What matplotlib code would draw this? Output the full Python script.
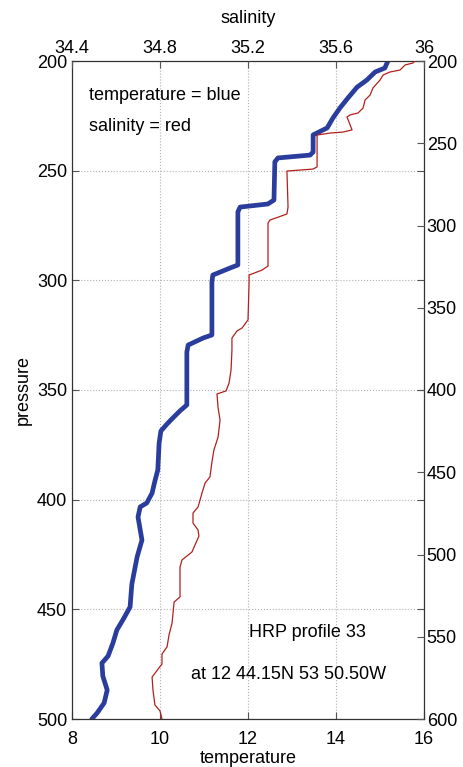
import matplotlib
matplotlib.use("Agg")
import matplotlib.pyplot as plt

plt.rcParams['font.family'] = ['Liberation Sans', 'DejaVu Sans']

# temperature profile (blue), pressure on left axis
temp_p = [200, 203.2, 205.0, 208.7, 211.9, 216.9, 221.4, 226.0, 230.5, 232.8, 233.7,
          241.5, 242.9, 244.2, 246.0, 263.4, 265.2, 266.6, 268.8, 293.0, 294.4, 297.6,
          300.8, 324.9, 326.3, 329.5, 332.7, 356.8, 359.6, 363.2, 365.5, 368.7, 374.2,
          386.5, 391.0, 397.0, 401.5, 403.3, 407.9, 418.4, 426.1, 438.5, 448.9, 454.0,
          459.4, 465.4, 471.3, 474.5, 480.4, 486.8, 492.7, 497.3, 500.0]
temp_t = [15.18, 15.11, 14.89, 14.70, 14.48, 14.27, 14.09, 13.93, 13.80, 13.57, 13.48,
          13.48, 13.41, 12.68, 12.61, 12.59, 12.45, 11.82, 11.77, 11.77, 11.59, 11.20,
          11.18, 11.18, 10.98, 10.64, 10.61, 10.61, 10.45, 10.27, 10.16, 10.02, 9.98,
          9.95, 9.89, 9.82, 9.70, 9.55, 9.50, 9.59, 9.48, 9.36, 9.32, 9.18,
          9.02, 8.93, 8.82, 8.68, 8.70, 8.80, 8.73, 8.57, 8.45]

# salinity profile (red), pressure on right axis
sal_p = [200, 201.2, 202.4, 205.5, 206.7, 208.5, 211.6, 216.4, 220.7, 223.7, 228.6,
         231.6, 232.8, 234.0, 241.9, 243.2, 243.8, 245.0, 264.4, 265.7, 266.9, 288.8,
         293.0, 296.7, 298.5, 324.6, 327.1, 330.1, 334.3, 357.4, 362.3, 364.1, 368.4,
         375.7, 387.8, 395.7, 400.6, 402.4, 410.9, 418.2, 428.6, 436.5, 443.8, 452.9,
         456.5, 462.6, 471.1, 474.8, 480.9, 485.1, 488.8, 498.5, 503.3, 507.6, 525.8,
         528.9, 541.6, 548.9, 556.2, 560.5, 566.6, 569.0, 574.5, 582.4, 591.5, 595.1, 600.0]
sal_s = [35.959, 35.950, 35.914, 35.891, 35.845, 35.814, 35.800, 35.768, 35.755, 35.732, 35.723,
         35.700, 35.664, 35.650, 35.673, 35.632, 35.573, 35.514, 35.514, 35.495, 35.377, 35.382,
         35.377, 35.300, 35.291, 35.291, 35.264, 35.205, 35.205, 35.200, 35.173, 35.150, 35.127,
         35.127, 35.123, 35.114, 35.100, 35.059, 35.064, 35.073, 35.064, 35.045, 35.036, 35.027,
         35.005, 34.991, 34.973, 34.950, 34.950, 34.973, 34.977, 34.945, 34.900, 34.891, 34.891,
         34.864, 34.855, 34.841, 34.832, 34.809, 34.809, 34.795, 34.764, 34.768, 34.777, 34.800, 34.809]

temp_ticks = [8, 10, 12, 14, 16]
sal_ticks = [34.4, 34.8, 35.2, 35.6, 36]
sal_tick_labels = ['34.4', '34.8', '35.2', '35.6', '36']
p_left_ticks = [200, 250, 300, 350, 400, 450, 500]
p_right_ticks = [200, 250, 300, 350, 400, 450, 500, 550, 600]

fig = plt.figure(figsize=(4.63, 7.67), dpi=100)
pos = [72 / 463, 1 - 719 / 767, 352 / 463, 658 / 767]

ax = fig.add_axes(pos)
ax.plot(temp_t, temp_p, color='#2b3d9c', lw=3.4, solid_capstyle='round',
        solid_joinstyle='round')
ax.set_xlim(8, 16)
ax.set_ylim(500, 200)
ax.set_xticks(temp_ticks)
ax.set_yticks(p_left_ticks)
ax.grid(True, color='#b0b0b0', linestyle=':', linewidth=0.8)
ax.tick_params(direction='in', length=5, labelsize=13, right=True, color='#555555')
ax.tick_params(axis='x', pad=9)
ax.set_xlabel('temperature', fontsize=13, labelpad=1)
ax.set_ylabel('pressure', fontsize=13, labelpad=4)

ax2 = fig.add_axes(pos, frameon=False)
ax2.plot(sal_s, sal_p, color='#b2201c', lw=0.9)
ax2.set_xlim(34.4, 36)
ax2.set_ylim(600, 200)
ax2.xaxis.tick_top()
ax2.xaxis.set_label_position('top')
ax2.yaxis.tick_right()
ax2.set_xticks(sal_ticks)
ax2.set_xticklabels(sal_tick_labels)
ax2.set_yticks(p_right_ticks)
ax2.tick_params(direction='in', length=5, labelsize=13, color='#555555', pad=2)
ax2.tick_params(axis='x', pad=3)
ax2.set_xlabel('salinity', fontsize=13, labelpad=12)
ax2.patch.set_visible(False)

for s in ax.spines.values():
    s.set_color('#333333')
    s.set_linewidth(0.9)

ax.text(0.048, 0.948, 'temperature = blue', transform=ax.transAxes, fontsize=13,
        va='center', ha='left')
ax.text(0.048, 0.90, 'salinity = red', transform=ax.transAxes, fontsize=13,
        va='center', ha='left')
ax.text(0.668, 0.131, 'HRP profile 33', transform=ax.transAxes, fontsize=13,
        va='center', ha='center')
ax.text(0.615, 0.068, 'at 12 44.15N 53 50.50W', transform=ax.transAxes, fontsize=13,
        va='center', ha='center')

fig.savefig('out.png', dpi=100)
